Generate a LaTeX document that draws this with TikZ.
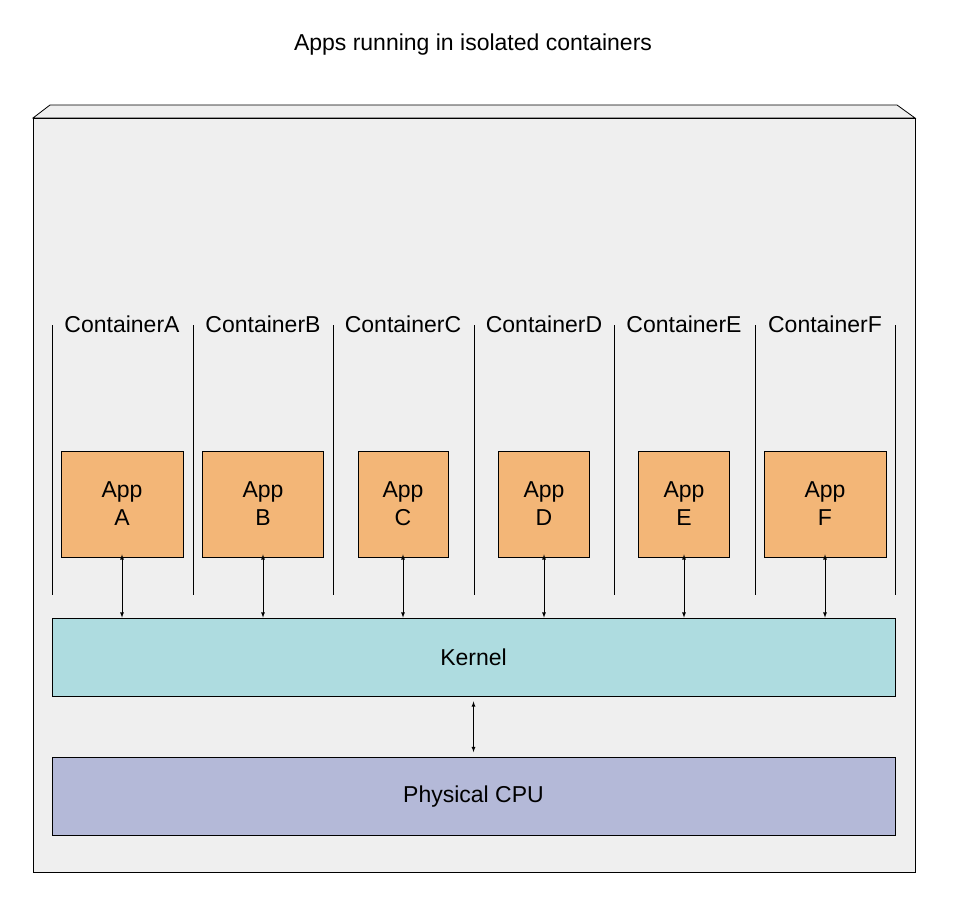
\documentclass[tikz,border=0pt]{standalone}
\usepackage{fontspec}
\setmainfont{Liberation Sans}
\usetikzlibrary{positioning}
\definecolor{appfill}{HTML}{F3B677}
\definecolor{kernelfill}{HTML}{AEDCE0}
\definecolor{cpufill}{HTML}{B4B9D8}
\definecolor{hostfill}{HTML}{EFEFEF}
\tikzset{
  appbox/.style={draw, thick, fill=appfill, align=center, inner sep=0pt},
  layerbox/.style={draw, thick, minimum width=843pt, minimum height=78pt, inner sep=0pt},
  link/.style={<->, >=latex, thick},
}
\begin{document}
\begin{tikzpicture}[x=1pt, y=-1pt, font=\fontsize{23}{28}\selectfont]
        \useasboundingbox (0,0) rectangle (960,910);
        % Host machine with bevelled top
        \draw[thick, fill=hostfill] (33,118) -- (50,105) -- (897,105) -- (915,118) -- cycle;
        \draw[thick, fill=hostfill] (33,118) rectangle (915,872);
        \node (title) at (473,45) {Apps running in isolated containers};

        % Container boundaries
        \foreach \x in {52,193,333,474,614,755,895}
            \draw[thick] (\x,325) -- (\x,595);

        % Kernel and CPU layers
        \node[layerbox, fill=kernelfill] (kernel) at (473.5,657) {Kernel};
        \node[layerbox, fill=cpufill] (cpu) at (473.5,796.5) {Physical CPU};
        \draw[link] ([yshift=-5pt]kernel.south) -- ([yshift=5pt]cpu.north);

        % Containers with their apps
        \foreach \name/\cx/\w in {A/122/122, B/263/121, C/403/90, D/544/91, E/684/91, F/825/122} {
            \node (lbl\name) at (\cx,324) {Container\\[-2pt]\name};
            \node[appbox, minimum width=\w pt, minimum height=106pt] (app\name) at (\cx,504) {App\\\name};
            \draw[link] ([yshift=3pt]app\name.south) -- (app\name.south |- kernel.north);
        }
\end{tikzpicture}
\end{document}
